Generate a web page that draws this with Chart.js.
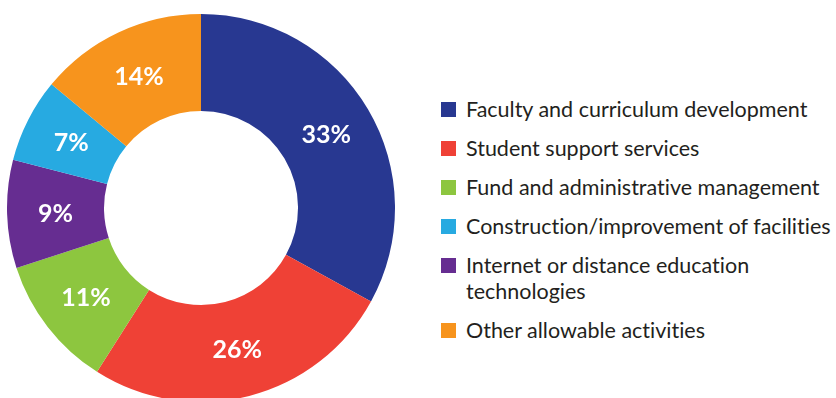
<!DOCTYPE html>
<html>
<head>
<meta charset="utf-8">
<script src="https://cdn.jsdelivr.net/npm/chart.js@4.4.1/dist/chart.umd.min.js"></script>
<style>
  html, body { margin: 0; padding: 0; background: #fff; overflow: hidden; }
  body { width: 836px; height: 398px; position: relative; }
  #donutWrap { position: absolute; left: 7px; top: 14px; width: 388px; height: 388px; }
  #legend { position: absolute; left: 441px; top: 96px; font-family: Lato, "Open Sans", sans-serif;
            font-size: 21.5px; color: #231f20; white-space: nowrap; font-variant-ligatures: none; }
  .item { display: flex; align-items: flex-start; margin-bottom: 13px; }
  .swatch { width: 15px; height: 15px; margin-top: 6px; margin-right: 10px; flex: none; }
  .txt { line-height: 26px; }
</style>
</head>
<body>
<div id="donutWrap"><canvas id="donut"></canvas></div>
<div id="legend"></div>
<script>
// categories in legend order
const categories = [
  ['Faculty and curriculum development'],
  ['Student support services'],
  ['Fund and administrative management'],
  ['Construction/improvement of facilities'],
  ['Internet or distance education', 'technologies'],
  ['Other allowable activities']
];
const shares = [33, 26, 11, 7, 9, 14];
const colors = ['#283891', '#ef4136', '#8dc63f', '#27aae1', '#662d91', '#f7941d'];
// slices go clockwise from the top in this order
const sliceOrder = [0, 1, 2, 4, 3, 5];

// legend
const legend = document.getElementById('legend');
categories.forEach((lines, i) => {
  const item = document.createElement('div');
  item.className = 'item';
  const sw = document.createElement('div');
  sw.className = 'swatch';
  sw.style.background = colors[i];
  const txt = document.createElement('div');
  txt.className = 'txt';
  txt.innerHTML = lines.join('<br>');
  item.append(sw, txt);
  legend.append(item);
});

// percent labels in the middle of each ring segment
const sliceLabels = {
  id: 'sliceLabels',
  afterDatasetsDraw(chart) {
    const ctx = chart.ctx;
    const meta = chart.getDatasetMeta(0);
    const values = chart.data.datasets[0].data;
    ctx.save();
    ctx.fillStyle = '#ffffff';
    ctx.font = 'bold 25px Lato, "Open Sans", sans-serif';
    ctx.textAlign = 'center';
    ctx.textBaseline = 'middle';
    meta.data.forEach((arc, i) => {
      const p = arc.tooltipPosition();
      ctx.fillText(values[i] + '%', p.x, p.y + 1);
    });
    ctx.restore();
  }
};

new Chart(document.getElementById('donut'), {
  type: 'doughnut',
  data: {
    labels: sliceOrder.map(i => categories[i].join(' ')),
    datasets: [{
      data: sliceOrder.map(i => shares[i]),
      backgroundColor: sliceOrder.map(i => colors[i]),
      borderWidth: 0
    }]
  },
  options: {
    responsive: true,
    maintainAspectRatio: false,
    animation: false,
    cutout: '50%',
    layout: { padding: 0 },
    plugins: {
      legend: { display: false },
      tooltip: { enabled: false }
    }
  },
  plugins: [sliceLabels]
});
</script>
</body>
</html>
